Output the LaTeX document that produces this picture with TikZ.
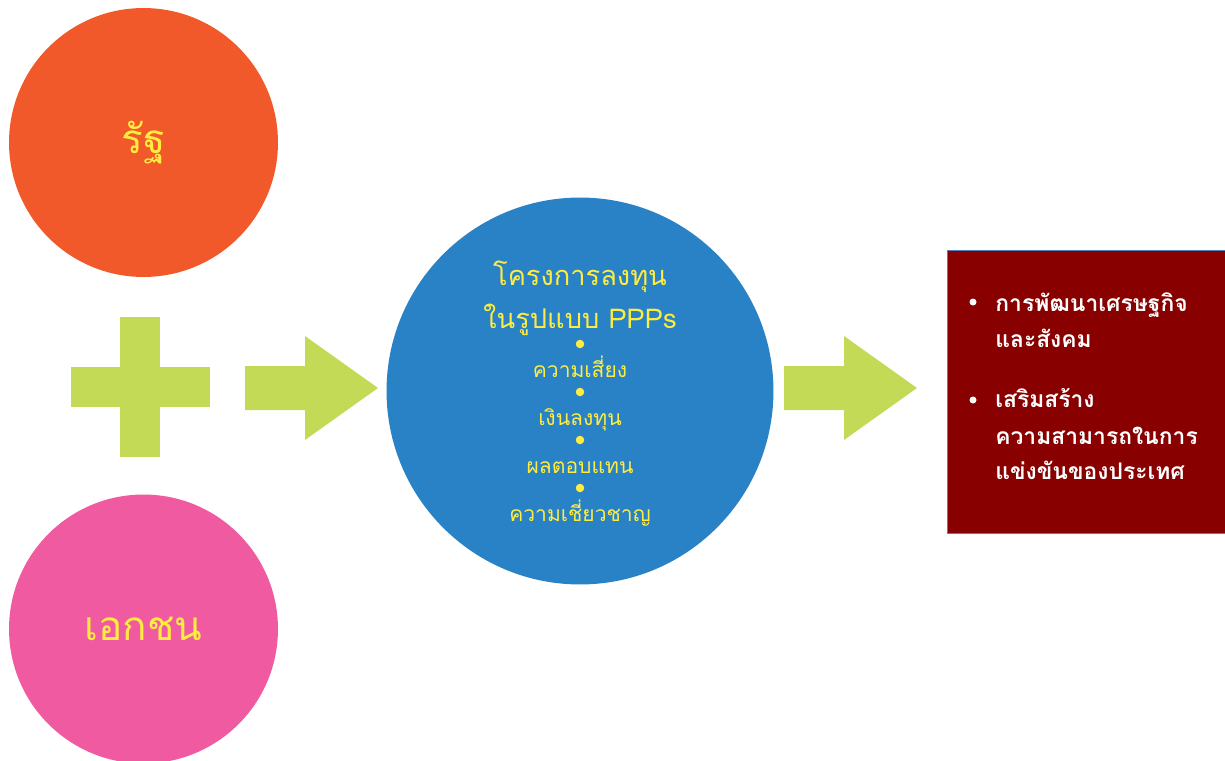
\documentclass[tikz,border=0pt]{standalone}
\usepackage{fontspec}
\newfontfamily\thaifont[Script=Thai]{Loma}
\usetikzlibrary{positioning}
\definecolor{ratorange}{RGB}{241,89,42}
\definecolor{ekpink}{RGB}{239,90,161}
\definecolor{pppblue}{RGB}{41,130,197}
\definecolor{blockgreen}{RGB}{195,218,87}
\definecolor{goalred}{RGB}{136,0,0}
\definecolor{goaledge}{RGB}{79,129,189}
\definecolor{thyellow}{RGB}{255,236,64}

\begin{document}
\begin{tikzpicture}[x=0.02cm,y=-0.02cm,
		partner/.style={circle,minimum size=5.38cm,inner sep=0pt,text=thyellow,font=\thaifont\fontsize{23}{26}\selectfont},
		block/.style={fill=blockgreen},
		pppline/.style={anchor=base,inner sep=0pt,text=thyellow,font=\thaifont\fontsize{#1}{#1}\selectfont},
		goalline/.style={anchor=base west,inner sep=0pt,text=white,font=\thaifont\bfseries\fontsize{13}{13}\selectfont}]
	\useasboundingbox (0,0) rectangle (1225,761);
	% partners
	\node[partner,fill=ratorange] (rat) at (143.5,142.5) {รัฐ};
	\node[partner,fill=ekpink] (ekachon) at (143.5,629) {เอกชน};
	\fill[block] (120,317) rectangle (160,457);
	\fill[block] (71,367) rectangle (210,407);
	% block arrows
	\foreach \X in {245,784}
	{\fill[block] (\X,366) -- ++(60,0) -- ++(0,-30) -- ++(73,52) -- ++(-73,52) -- ++(0,-30) -- ++(-60,0) -- cycle;}
	% PPP circle
	\node[circle,fill=pppblue,minimum size=7.74cm,inner sep=0pt] (ppp) at (580,391) {};
	\node[pppline=15.5] (title1) at (580,285) {โครงการลงทุน};
	\node[pppline=15.5] (title2) at (580,328) {ในรูปแบบ PPPs};
	\foreach \T [count=\i] in {ความเสี่ยง,เงินลงทุน,ผลตอบแทน,ความเชี่ยวชาญ}
	{\fill[thyellow] (580,{296+48*\i}) circle (0.085cm);
		\node[pppline=12] (item\i) at (580,{329+48*\i}) {\T};}
	% goals
	\node[rectangle,fill=goalred,draw=goaledge,anchor=north west,minimum width=5.7cm,minimum height=5.66cm] (goal) at (946.5,250) {};
	\fill[white] (973,302) circle (0.07cm);
	\fill[white] (973,400) circle (0.07cm);
	\node[goalline] (goal1) at (995,311) {การพัฒนาเศรษฐกิจ};
	\node[goalline] (goal2) at (995,347) {และสังคม};
	\node[goalline] (goal3) at (995,407) {เสริมสร้าง};
	\node[goalline] (goal4) at (995,444) {ความสามารถในการ};
	\node[goalline] (goal5) at (995,479) {แข่งขันของประเทศ};
\end{tikzpicture}
\end{document}
